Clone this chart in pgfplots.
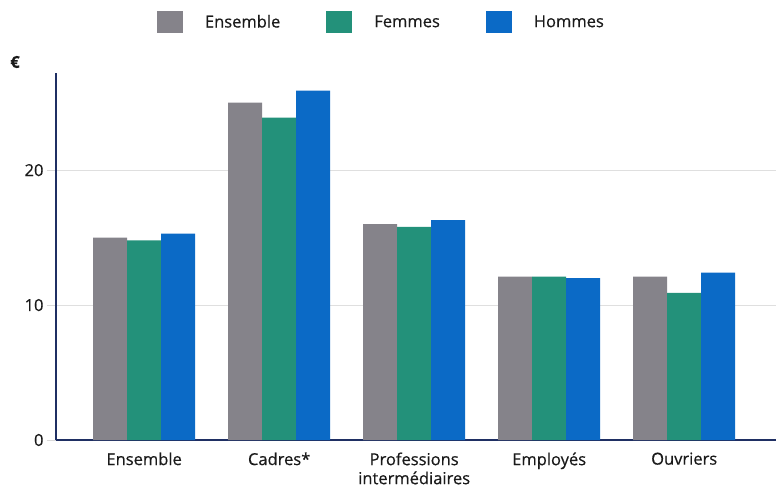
\documentclass[border=0pt]{standalone}
\usepackage{pgfplots}
\pgfplotsset{compat=1.18}
\usepackage{fontspec}
\setmainfont{Open Sans}[FakeBold=0.5]
\definecolor{cgray}{HTML}{85838A}
\definecolor{cgreen}{HTML}{23917A}
\definecolor{cblue}{HTML}{0B6AC6}
\definecolor{spine}{HTML}{1F2F63}
\definecolor{txt}{HTML}{1A1A1A}
\newcommand{\ff}{\fontsize{16.5bp}{19bp}\selectfont}
\begin{document}
\begin{tikzpicture}
\path[use as bounding box] (-56bp,-48bp) rectangle (720bp,440bp);
\begin{axis}[
  at={(0,0)}, anchor=south west,
  scale only axis, width=720bp, height=367bp,
  xmin=-0.653, xmax=4.68, ymin=0, ymax=27.2,
  clip mode=individual,
  ybar=0pt, bar width=0.252,
  axis x line*=bottom, axis y line*=left,
  axis line style={spine, line width=1.6bp},
  xtick={0,1,2,3,4},
  xticklabels={Ensemble, Cadres*, {Professions\\intermédiaires}, Employés, Ouvriers},
  xticklabel style={align=center, font=\ff, text=txt},
  x tick style={draw=none},
  ytick={0,10,20},
  yticklabel style={font=\ff, text=txt, /pgf/number format/assume math mode=true},
  y tick style={draw=gray!30, line width=1bp},
  tick align=outside, major tick length=9bp,
  ymajorgrids, grid style={gray!25, line width=1bp},
  legend columns=3,
  legend style={draw=none, fill=none, font=\ff, text=txt,
    at={(axis description cs:0.452,1.139)}, anchor=center,
    /tikz/every odd column/.append style={column sep=20bp},
    /tikz/every even column/.append style={column sep=44bp}},
  leg/.style={legend image code/.code={\fill[##1,draw=none] (0bp,-11bp) rectangle (26bp,11bp);}},
]
\addplot[fill=cgray, draw=none, leg] coordinates {(0,15.0) (1,25.0) (2,16.0) (3,12.1) (4,12.1)};
\addplot[fill=cgreen, draw=none, leg] coordinates {(0,14.8) (1,23.9) (2,15.8) (3,12.1) (4,10.9)};
\addplot[fill=cblue, draw=none, leg] coordinates {(0,15.3) (1,25.9) (2,16.3) (3,12.0) (4,12.4)};
\legend{Ensemble, Femmes, Hommes}
\node[font=\ff\bfseries, text=txt] at (rel axis cs:0,1) [xshift=-41bp, yshift=11bp] {€};
\end{axis}
\end{tikzpicture}
\end{document}
